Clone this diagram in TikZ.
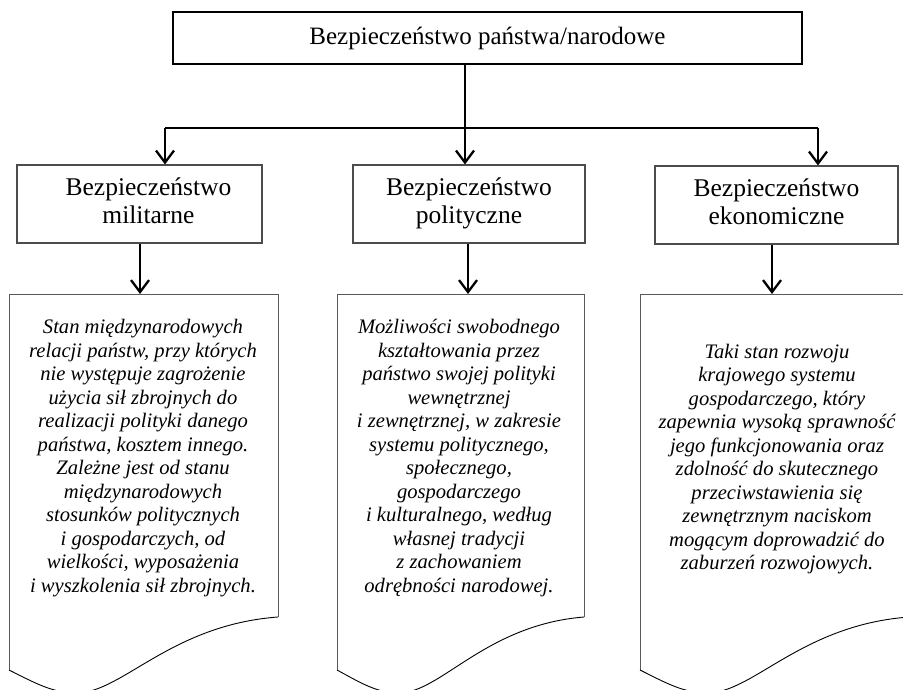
\documentclass[tikz,border=0pt]{standalone}
\usepackage{fontspec}
\setmainfont{Liberation Serif}
\usetikzlibrary{arrows.meta}
\begin{document}
\begin{tikzpicture}[x=1pt,y=-1pt,
  topbox/.style={draw=black,line width=2.6pt,minimum width=629pt,minimum height=52pt,inner sep=0pt,font=\fontsize{25}{28}\selectfont},
  midbox/.style={draw=black!70,line width=1.1pt,inner sep=0pt,align=center,font=\fontsize{25.5}{28}\selectfont},
  doctext/.style={align=center,inner sep=0pt,font=\fontsize{20.6}{23.5}\selectfont\itshape},
  docline/.style={draw=black!65,line width=1pt},
  wave/.style={line width=0.9pt},
  conn/.style={line width=2.3pt},
  arr/.style={conn,-{Straight Barb[length=12pt,width=18pt,line width=2.3pt]}}
]
\useasboundingbox (0,0) rectangle (903,690);
\clip (0,0) rectangle (903,690);

% top
\node[topbox] (top) at (487.5,38) {Bezpieczeństwo państwa/narodowe};

% middle boxes
\node[midbox,minimum width=245pt,minimum height=78pt] (m1) at (139.5,204)
  {\hspace*{18pt}Bezpieczeństwo\strut\\\hspace*{18pt}militarne\strut};
\node[midbox,minimum width=232pt,minimum height=78pt] (m2) at (469,204)
  {Bezpieczeństwo\strut\\polityczne\strut};
\node[midbox,minimum width=243pt,minimum height=78pt] (m3) at (776.5,205)
  {Bezpieczeństwo\strut\\ekonomiczne\strut};

% connectors top
\coordinate (hub) at (465,128);
\coordinate (j1) at (165,128);
\coordinate (j3) at (818,128);
\draw[conn] (top.south -| hub) -- (hub);
\draw[conn] (j1) -- (j3);
\draw[arr] (j1) -- (j1 |- m1.north);
\draw[arr] (hub) -- (hub |- m2.north);
\draw[arr] (j3) -- (j3 |- m3.north);

% documents
\coordinate (d1) at (9,294);
\coordinate (d2) at (337,294);
\coordinate (d3) at (640,294);

\draw[docline] (9,670) -- (9,294) -- (278,294) -- (278,617);
\draw[wave] (9,670) .. controls (33.2,682) and (52,693) .. (76.25,693)
   .. controls (122,693) and (170.4,625) .. (278,617);

\draw[docline] (337,670) -- (337,294) -- (584,294) -- (584,617);
\draw[wave] (337,670) .. controls (359.2,682) and (376.5,693) .. (398.75,693)
   .. controls (440.7,693) and (485.2,625) .. (584,617);

\draw[docline] (640,670) -- (640,294) -- (909,294) -- (909,617);
\draw[wave] (640,670) .. controls (664.2,682) and (683,693) .. (707.25,693)
   .. controls (753,693) and (801.4,625) .. (909,617);

% lower connectors
\draw[arr] (m1.south -| 140,0) -- (d1 -| 140,0);
\draw[arr] (m2.south -| 468,0) -- (d2 -| 468,0);
\draw[arr] (m3.south -| 772,0) -- (d3 -| 772,0);

% document texts
\node[doctext] (t1) at (143,458) {Stan międzynarodowych\\relacji państw, przy których\\nie występuje zagrożenie\\użycia sił zbrojnych do\\realizacji polityki danego\\państwa, kosztem innego.\\Zależne jest od stanu\\międzynarodowych\\stosunków politycznych\\i gospodarczych, od\\wielkości, wyposażenia\\i wyszkolenia sił zbrojnych.};
\node[doctext] (t2) at (459,458) {Możliwości swobodnego\\kształtowania przez\\państwo swojej polityki\\wewnętrznej\\i zewnętrznej, w zakresie\\systemu politycznego,\\społecznego,\\gospodarczego\\i kulturalnego, według\\własnej tradycji\\z zachowaniem\\odrębności narodowej.};
\node[doctext] (t3) at (777,459) {Taki stan rozwoju\\krajowego systemu\\gospodarczego, który\\zapewnia wysoką sprawność\\jego funkcjonowania oraz\\zdolność do skutecznego\\przeciwstawienia się\\zewnętrznym naciskom\\mogącym doprowadzić do\\zaburzeń rozwojowych.};
\end{tikzpicture}
\end{document}
